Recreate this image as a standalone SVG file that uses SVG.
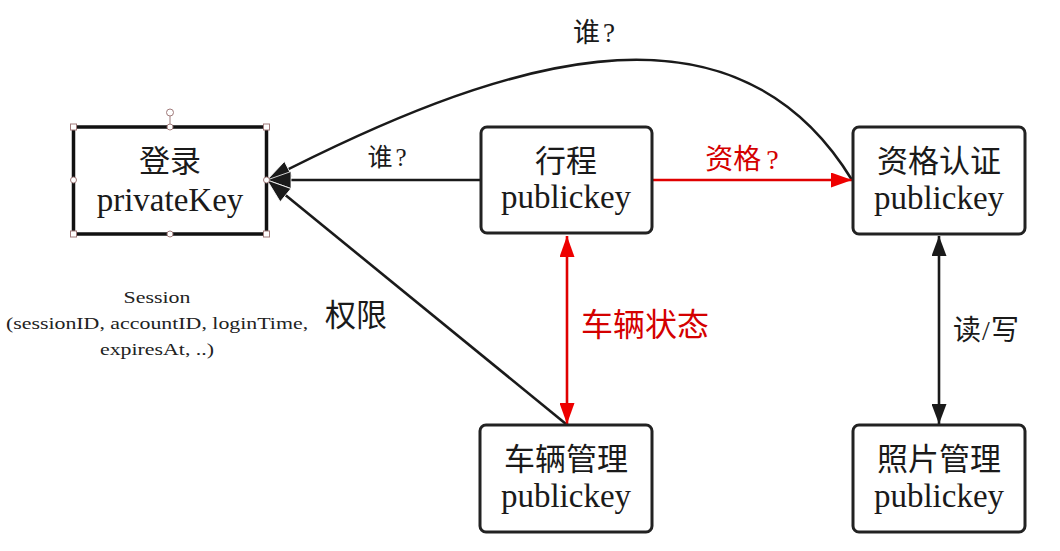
<svg xmlns="http://www.w3.org/2000/svg" width="1060" height="551" viewBox="0 0 1060 551">
<style>
.box{fill:#fff;stroke:#222;stroke-width:3}
.cn{font-family:"Noto Sans CJK SC","Liberation Serif",serif;font-size:31px;fill:#1a1a1a;text-anchor:middle}
.en{font-family:"Liberation Serif","Noto Sans CJK SC",serif;font-size:33px;fill:#1a1a1a;text-anchor:middle}
.lbl{font-family:"Liberation Serif","Noto Sans CJK SC",serif;fill:#1a1a1a}
.red{fill:#d40000}
.blk{fill:none;stroke:#1a1a1a;stroke-width:2.6}
.rl{fill:none;stroke:#e00000;stroke-width:2.6}
.hdl{fill:#fff;stroke:#a07a7a;stroke-width:1}
</style>
<defs>
<marker id="big" markerUnits="userSpaceOnUse" viewBox="-1 -1 26 19" refX="24" refY="8.5" markerWidth="26" markerHeight="19" orient="auto">
<path d="M0,0 L24,8.5 L0,17 z" fill="#1a1a1a" stroke="#fff" stroke-width="0.8" stroke-linejoin="miter"/>
</marker>
<marker id="bk" markerUnits="userSpaceOnUse" viewBox="0 0 20 15" refX="20" refY="7.5" markerWidth="20" markerHeight="15" orient="auto-start-reverse">
<path d="M0,0 L20,7.5 L0,15 z" fill="#1a1a1a"/>
</marker>
<marker id="rd" markerUnits="userSpaceOnUse" viewBox="0 0 21 15" refX="21" refY="7.5" markerWidth="21" markerHeight="15" orient="auto-start-reverse">
<path d="M0,0 L21,7.5 L0,15 z" fill="#ee0000"/>
</marker>
</defs>

<g id="connectors">
<path class="blk" d="M852,180 C730,-20 491,65 267,180" marker-end="url(#big)"/>
<line class="blk" x1="481" y1="180" x2="267" y2="180" marker-end="url(#big)"/>
<line class="blk" x1="566" y1="424" x2="267" y2="180" marker-end="url(#big)"/>
<line class="rl" x1="652" y1="180" x2="852" y2="180" marker-end="url(#rd)"/>
<line class="rl" x1="567" y1="236" x2="567" y2="424" marker-start="url(#rd)" marker-end="url(#rd)"/>
<line class="blk" x1="939" y1="236" x2="939" y2="424" marker-start="url(#bk)" marker-end="url(#bk)"/>
<text class="lbl" x="594" y="42" font-size="27" text-anchor="middle">谁<tspan dx="3">?</tspan></text>
<text class="lbl" x="387" y="166" font-size="25" text-anchor="middle">谁<tspan dx="3">?</tspan></text>
<text class="lbl red" x="742" y="169" font-size="28" text-anchor="middle">资格<tspan dx="5">?</tspan></text>
<text class="lbl red" x="645" y="336" font-size="32" text-anchor="middle">车辆状态</text>
<text class="lbl" x="356" y="326" font-size="31" text-anchor="middle">权限</text>
<text class="lbl" x="986" y="340" font-size="28" text-anchor="middle">读<tspan dx="1">/</tspan><tspan dx="1">写</tspan></text>
</g>

<g id="login">
<rect x="73.5" y="127" width="193" height="107" fill="#fff" stroke="#111" stroke-width="3.5"/>
<text class="cn" x="170" y="172">登录</text>
<text class="en" x="170" y="211">privateKey</text>
<line x1="170" y1="116" x2="170" y2="127" stroke="#a07a7a" stroke-width="1"/>
<circle class="hdl" cx="170" cy="112.5" r="3.5"/>
<rect class="hdl" x="70.5" y="124" width="6" height="6"/>
<rect class="hdl" x="263.5" y="124" width="6" height="6"/>
<rect class="hdl" x="70.5" y="231" width="6" height="6"/>
<rect class="hdl" x="263.5" y="231" width="6" height="6"/>
<circle class="hdl" cx="170" cy="127" r="3"/>
<circle class="hdl" cx="170" cy="234" r="3"/>
<circle class="hdl" cx="73.5" cy="180" r="3"/>
<circle class="hdl" cx="266.5" cy="180" r="3"/>
</g>

<g id="session">
<g transform="translate(157,0) scale(1.25,1)" font-family="'Liberation Serif',serif" font-size="17.5" fill="#222" text-anchor="middle">
<text x="0" y="303">Session</text>
<text x="0" y="329">(sessionID, accountID, loginTime,</text>
<text x="0" y="355">expiresAt, ..)</text>
</g>
</g>

<g id="trip">
<rect class="box" x="481" y="127" width="171" height="106" rx="6"/>
<text class="cn" x="566" y="172">行程</text>
<text class="en" x="566" y="208">publickey</text>
</g>

<g id="qualification">
<rect class="box" x="853" y="127" width="172" height="107" rx="6"/>
<text class="cn" x="939" y="172">资格认证</text>
<text class="en" x="939" y="209">publickey</text>
</g>

<g id="vehicle">
<rect class="box" x="480" y="425" width="172" height="107" rx="6"/>
<text class="cn" x="566" y="470">车辆管理</text>
<text class="en" x="566" y="507">publickey</text>
</g>

<g id="photo">
<rect class="box" x="853" y="425" width="172" height="107" rx="6"/>
<text class="cn" x="939" y="470">照片管理</text>
<text class="en" x="939" y="507">publickey</text>
</g>
</svg>
